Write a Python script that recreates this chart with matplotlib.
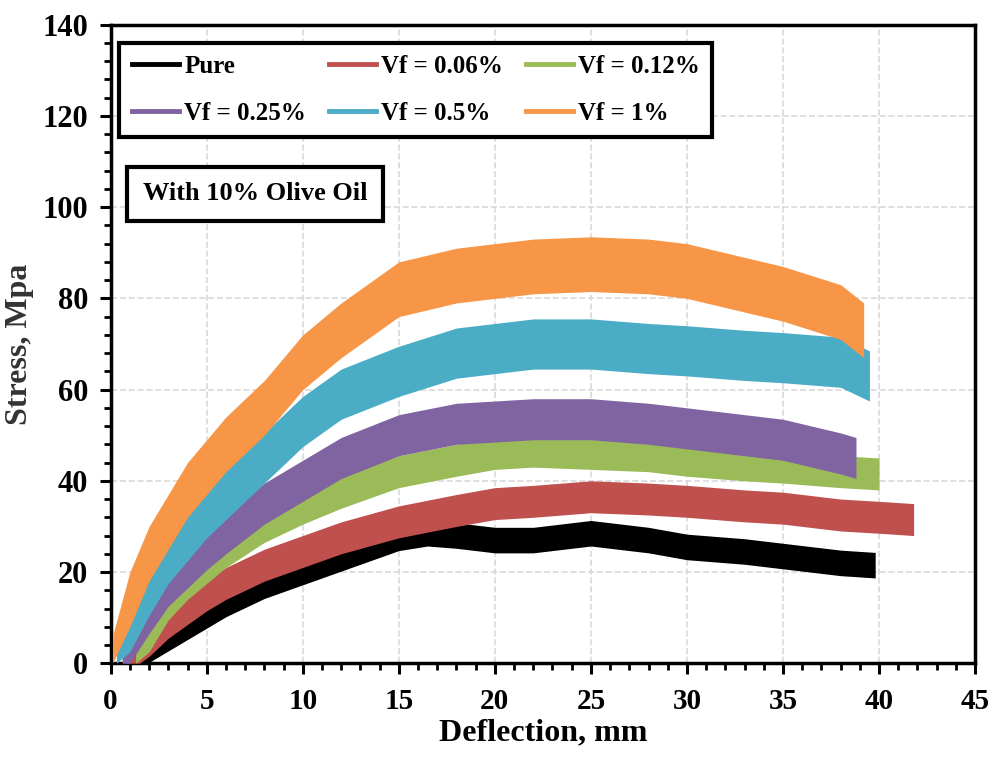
import matplotlib.pyplot as plt
import numpy as np
from matplotlib.lines import Line2D

# stress-deflection bands (centre line, MPa)
x_pure = [1.0, 2, 3, 4, 5, 6, 8, 10, 12, 14, 15, 16.5, 18, 20, 22, 25, 28, 30, 33, 35, 38, 39.8]
y_pure = [0, 3, 5.5, 8, 10.5, 13, 17, 20, 23, 26, 27.5, 28.5, 28, 27, 27, 28.5, 27, 25.5, 24.5, 23.5, 22, 21.5]

x_006 = [0.8, 1.5, 2, 3, 4, 5, 6, 8, 10, 12, 15, 18, 20, 22, 25, 28, 30, 33, 35, 38, 40, 41.8]
y_006 = [0, 3, 5, 9, 12, 15, 17.5, 21.5, 24.5, 27.5, 31, 33.5, 35, 35.5, 36.5, 36, 35.5, 34.5, 34, 32.5, 32, 31.5]

x_012 = [1.3, 2, 3, 4, 5, 6, 8, 10, 12, 15, 18, 20, 22, 25, 28, 30, 33, 35, 38, 40]
y_012 = [0, 6, 13, 17.5, 21, 24.5, 30, 34, 37.5, 42, 44.5, 46, 46.5, 46, 45.5, 44.5, 43.5, 43, 42, 41.5]

x_025 = [0.6, 1, 2, 3, 4, 5, 6, 8, 10, 12, 15, 18, 20, 22, 25, 28, 30, 33, 35, 38, 38.8]
y_025 = [0, 4, 11, 17, 21, 25, 28.5, 35, 40, 45, 50, 52.5, 53, 53.5, 53.5, 52.5, 51.5, 50, 49, 46, 45]

x_05 = [0.3, 1, 2, 3, 4, 5, 6, 8, 10, 12, 15, 18, 20, 22, 25, 28, 30, 33, 35, 38, 39.5]
y_05 = [0, 8, 16, 23, 28, 33, 37, 45, 53, 59, 64, 68, 69, 70, 70, 69, 68.5, 67.5, 67, 66, 63]

x_1 = [0.1, 1, 2, 3, 4, 5, 6, 8, 10, 12, 15, 18, 20, 22, 25, 28, 30, 33, 35, 38, 39.2]
y_1 = [0, 14, 24, 31, 38, 43, 48, 56, 66, 73, 82, 85, 86, 87, 87.5, 87, 86, 83, 81, 77, 73]

labels = ['Pure', 'Vf = 0.06%', 'Vf = 0.12%', 'Vf = 0.25%', 'Vf = 0.5%', 'Vf = 1%']
colors = ['#000000', '#C0504D', '#9BBB59', '#8064A2', '#4BACC6', '#F79646']
half_width = [2.8, 3.5, 3.5, 4.5, 5.5, 6.0]   # scatter band half-height, MPa

series = [(x_pure, y_pure), (x_006, y_006), (x_012, y_012),
          (x_025, y_025), (x_05, y_05), (x_1, y_1)]

plt.rcParams['font.family'] = ['Liberation Serif', 'DejaVu Serif']
plt.rcParams['font.weight'] = 'bold'

fig = plt.figure(figsize=(9.97, 7.73), dpi=100)
ax = fig.add_axes([0.111, 0.142, 0.867, 0.826])

for i, (xs, ys) in enumerate(series):
    xs = np.array(xs)
    ys = np.array(ys)
    lo = np.clip(ys - half_width[i], 0, None)
    hi = ys + half_width[i]
    ax.fill_between(xs, lo, hi, color=colors[i], lw=0, zorder=2 + i)

ax.set_xlim(0, 45)
ax.set_ylim(0, 140)
ax.set_xticks(np.arange(0, 46, 5))
ax.set_yticks(np.arange(0, 141, 20))
ax.set_xticks(np.arange(0, 46, 1), minor=True)
ax.set_yticks(np.arange(0, 141, 4), minor=True)
ax.grid(True, which='major', color='#D9D9D9', linestyle='--', linewidth=1.2, zorder=0)
ax.set_axisbelow(True)

for s in ax.spines.values():
    s.set_linewidth(2.5)
    s.set_color('black')

ax.tick_params(axis='both', which='major', direction='out', length=8, width=2.2)
ax.tick_params(axis='both', which='minor', direction='out', length=5, width=2)
ax.tick_params(axis='x', labelsize=21, pad=10)
ax.tick_params(axis='y', labelsize=22, pad=8)
for t in ax.get_xticklabels() + ax.get_yticklabels():
    t.set_fontweight('bold')

ax.set_xlabel('Deflection, mm', fontsize=23, fontweight='bold', labelpad=2)
ax.set_ylabel('Stress, Mpa', fontsize=23, fontweight='bold', color='#333333', labelpad=6)

# legend, Excel order filled column-wise in matplotlib
order = [0, 3, 1, 4, 2, 5]
handles = [Line2D([0], [0], color=colors[k], lw=3.5) for k in order]
leg = ax.legend(handles, [labels[k] for k in order], ncol=3, loc='upper left',
                bbox_to_anchor=(0.010, 0.972), borderaxespad=0, frameon=True,
                fancybox=False, framealpha=1,
                handlelength=1.9, handletextpad=0.2, columnspacing=0.9,
                labelspacing=0.95, borderpad=0.5, prop={'size': 18, 'weight': 'bold'})
leg.get_frame().set_edgecolor('black')
leg.get_frame().set_linewidth(3)
leg.set_zorder(20)

ax.text(0.1667, 0.735, 'With 10% Olive Oil', transform=ax.transAxes, fontsize=19,
        fontweight='bold', ha='center', va='center', zorder=20,
        bbox=dict(boxstyle='square,pad=0.6', facecolor='white', edgecolor='black', linewidth=3))

plt.savefig('out.png', dpi=100)
